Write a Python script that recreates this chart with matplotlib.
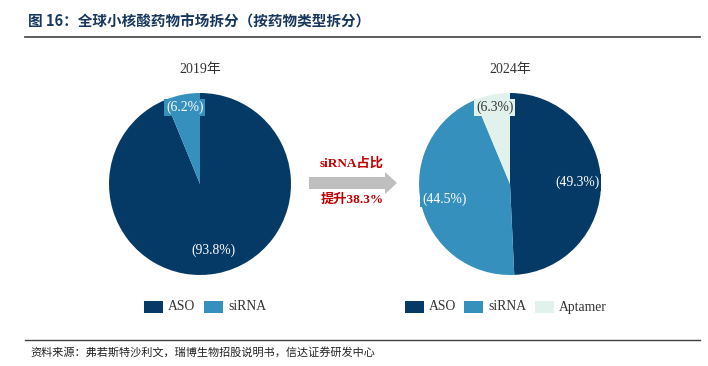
import numpy as np
import matplotlib
matplotlib.use("Agg")
import matplotlib.pyplot as plt
from matplotlib.patches import FancyArrow, Rectangle
from matplotlib.lines import Line2D

plt.rcParams['font.family'] = ['Liberation Serif', 'Noto Sans CJK SC', 'DejaVu Sans']

# ---- data ----
title = "图 16：全球小核酸药物市场拆分（按药物类型拆分）"
source = "资料来源：弗若斯特沙利文，瑞博生物招股说明书，信达证券研发中心"
years = ["2019年", "2024年"]
cats_2019 = ["ASO", "siRNA"]
vals_2019 = [93.8, 6.2]
cats_2024 = ["ASO", "siRNA", "Aptamer"]
vals_2024 = [49.3, 44.5, 6.3]
arrow_top = "siRNA占比"
arrow_bottom = "提升38.3%"

colors = {"ASO": "#063a66", "siRNA": "#3590bd", "Aptamer": "#e1f1ec"}
text_colors = {"ASO": "white", "siRNA": "white", "Aptamer": "#333333"}

W, H = 708, 366
fig = plt.figure(figsize=(W / 100, H / 100), dpi=100)

def px_axes(cx, cy, r):
    return fig.add_axes([(cx - r) / W, 1 - (cy + r) / H, 2 * r / W, 2 * r / H])

def draw_pie(cx, cy, r, cats, vals, year):
    ax = px_axes(cx, cy, r)
    wedges, _ = ax.pie(vals, colors=[colors[c] for c in cats], startangle=90,
                       counterclock=False, radius=1,
                       wedgeprops=dict(linewidth=0))
    ax.set_xlim(-1, 1)
    ax.set_ylim(-1, 1)
    ax.set_aspect('equal')
    ax.axis('off')
    total = sum(vals)
    ang = 90.0
    for c, v in zip(cats, vals):
        span = v / total * 360
        mid = np.deg2rad(ang - span / 2)
        ang -= span
        d = 0.86 if v < 10 else 0.74
        ax.text(d * np.cos(mid), d * np.sin(mid), f"({v:.1f}%)", ha='center', va='center',
                fontsize=9.8, color=text_colors[c],
                bbox=dict(boxstyle='square,pad=0.12', fc=colors[c], ec='none'))
    fig.text(cx / W, 1 - 70 / H, year, ha='center', va='center', fontsize=10, color='#333333')

draw_pie(200, 184, 91, cats_2019, vals_2019, years[0])
draw_pie(510, 184, 91, cats_2024, vals_2024, years[1])

# title and rules
fig.text(28 / W, 1 - 22 / H, title, ha='left', va='center', fontsize=10.5, fontweight='bold',
         color='#17375e', family=['Noto Sans CJK SC', 'DejaVu Sans'])
fig.add_artist(Line2D([25 / W, 700 / W], [1 - 37 / H, 1 - 37 / H], color='#505050', lw=1.3,
                      transform=fig.transFigure))
fig.add_artist(Line2D([25 / W, 700 / W], [1 - 340 / H, 1 - 340 / H], color='#404040', lw=1.0,
                      transform=fig.transFigure))
fig.text(30 / W, 1 - 353 / H, source, ha='left', va='center', fontsize=8, color='#222222',
         family=['Noto Sans CJK SC', 'DejaVu Sans'])

# arrow
ax_ar = fig.add_axes([0, 0, 1, 1], facecolor='none')
ax_ar.set_xlim(0, W)
ax_ar.set_ylim(H, 0)
ax_ar.axis('off')
ax_ar.add_patch(FancyArrow(309, 183, 88, 0, width=12, head_width=22, head_length=12,
                           length_includes_head=True, fc='#bfbfbf', ec='none'))
ax_ar.text(352, 164, arrow_top, ha='center', va='center', fontsize=9.5, color='#c00000',
           fontweight='bold')
ax_ar.text(352, 200, arrow_bottom, ha='center', va='center', fontsize=9.5, color='#c00000',
           fontweight='bold')

# legends
def legend(x0, y, cats, gaps):
    x = x0
    for c, g in zip(cats, gaps):
        ax_ar.add_patch(Rectangle((x, y - 6), 19, 12, fc=colors[c], ec='none'))
        ax_ar.text(x + 24, y, c, ha='left', va='center', fontsize=9.8, color='#333333')
        x += g

legend(144, 307, cats_2019, [60, 60])
legend(405, 307, cats_2024, [59, 71, 0])

fig.savefig("out.png", dpi=100)
